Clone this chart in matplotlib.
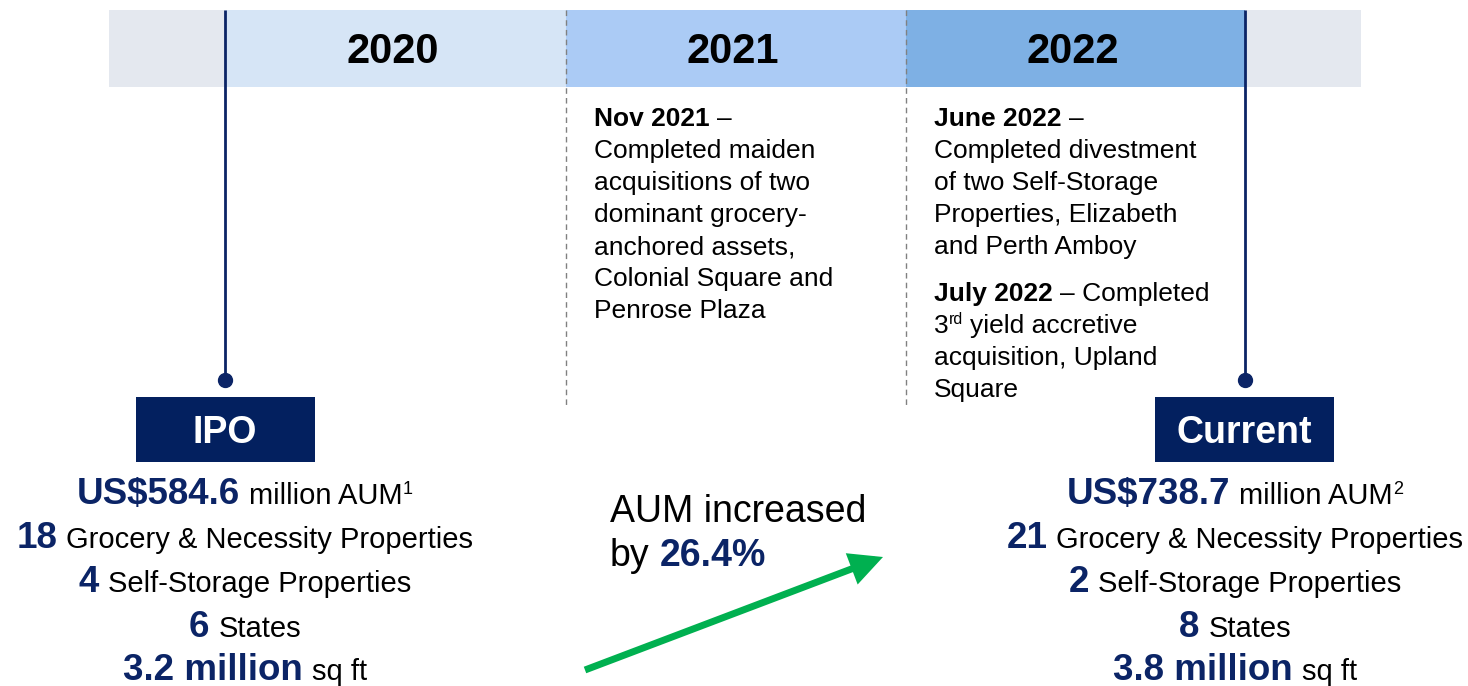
import matplotlib.pyplot as plt
from matplotlib.patches import Rectangle, FancyArrowPatch

plt.rcParams['font.family'] = ['Liberation Sans', 'DejaVu Sans']

# ---- data ----
years = ['2020', '2021', '2022']
year_colors = ['#D6E5F6', '#ABCBF5', '#7EB0E4']

ipo_label = 'IPO'
ipo_stats = [('US$584.6', 'million AUM¹'),
             ('18', 'Grocery & Necessity Properties'),
             ('4', 'Self-Storage Properties'),
             ('6', 'States'),
             ('3.2 million', 'sq ft')]

current_label = 'Current'
current_stats = [('US$738.7', 'million AUM²'),
                 ('21', 'Grocery & Necessity Properties'),
                 ('2', 'Self-Storage Properties'),
                 ('8', 'States'),
                 ('3.8 million', 'sq ft')]

aum_increase = '26.4%'

NAVY = '#0B2466'
BOX = '#03205F'
GREEN = '#00B050'

W, H = 1468, 686
fig = plt.figure(figsize=(W / 100, H / 100), dpi=100)
ax = fig.add_axes([0, 0, 1, 1])
ax.set_xlim(0, W)
ax.set_ylim(H, 0)
ax.axis('off')
renderer = fig.canvas.get_renderer()


def pt2px(pt):
    return pt * 100 / 72


def rich(x, y, parts, ha='center'):
    # parts: (text, size, weight, color, raise_px, gap_before_px)
    texts = []
    for s, size, weight, color, dy, gap in parts:
        t = ax.text(0, y - dy, s, fontsize=size, fontweight=weight, color=color,
                    va='baseline', ha='left')
        texts.append((t, gap))
    widths = [t.get_window_extent(renderer).width for t, g in texts]
    total = sum(widths) + sum(g for t, g in texts)
    cur = x - total / 2 if ha == 'center' else x
    for (t, g), w in zip(texts, widths):
        cur += g
        t.set_x(cur)
        cur += w


# ---- timeline band ----
edges = [225, 566, 906, 1245]
ax.add_patch(Rectangle((109, 10), 1361 - 109, 77, color='#E4E8EF', lw=0))
for i, (yr, c) in enumerate(zip(years, year_colors)):
    ax.add_patch(Rectangle((edges[i], 10), edges[i + 1] - edges[i], 77, color=c, lw=0))
    ax.text((edges[i] + edges[i + 1]) / 2 - 3, 63, yr, fontsize=30, fontweight='bold',
            ha='center', va='baseline', color='black')

for xd in edges[1:3]:
    ax.plot([xd, xd], [10, 405], color='#808080', lw=1, ls=(0, (4, 3)))

for xs in (edges[0], edges[3]):
    ax.plot([xs, xs], [10, 380], color=NAVY, lw=2, solid_capstyle='butt')
    ax.plot([xs], [380], 'o', color=NAVY, ms=10)

# ---- IPO / Current boxes ----
for cx, label in ((225, ipo_label), (1244.5, current_label)):
    ax.add_patch(Rectangle((cx - 89.5, 397), 179, 65, color=BOX, lw=0))
    ax.text(cx, 443, label, fontsize=27, fontweight='bold', color='white',
            ha='center', va='baseline')

baselines = [504, 548, 592, 637, 680]
sp = pt2px(21) * 0.3
for cx, stats in ((245, ipo_stats), (1235, current_stats)):
    for (num, txt), by in zip(stats, baselines):
        parts = [(num, 26.5, 'bold', NAVY, 0, 0)]
        if txt.endswith(('¹', '²')):
            parts.append((txt[:-1], 21, 'normal', 'black', 0, sp))
            parts.append(({'¹': '1', '²': '2'}[txt[-1]], 13, 'normal', 'black', 10, 0))
        else:
            parts.append((txt, 21, 'normal', 'black', 0, sp))
        rich(cx, by, parts)

# ---- events ----
EV = 19
lh = 32
esp = pt2px(EV) * 0.278
rich(594, 126, [('Nov 2021', EV, 'bold', 'black', 0, 0), ('–', EV, 'normal', 'black', 0, esp)], ha='left')
for i, line in enumerate(['Completed maiden', 'acquisitions of two', 'dominant grocery-',
                          'anchored assets,', 'Colonial Square and', 'Penrose Plaza']):
    ax.text(594, 126 + lh * (i + 1), line, fontsize=EV, va='baseline', ha='left')

rich(934, 126, [('June 2022', EV, 'bold', 'black', 0, 0), ('–', EV, 'normal', 'black', 0, esp)], ha='left')
for i, line in enumerate(['Completed divestment', 'of two Self-Storage',
                          'Properties, Elizabeth', 'and Perth Amboy']):
    ax.text(934, 126 + lh * (i + 1), line, fontsize=EV, va='baseline', ha='left')

rich(934, 301, [('July 2022', EV, 'bold', 'black', 0, 0),
                ('– Completed', EV, 'normal', 'black', 0, esp)], ha='left')
rich(934, 333, [('3', EV, 'normal', 'black', 0, 0), ('rd', 11.5, 'normal', 'black', 9, 0),
                ('yield accretive', EV, 'normal', 'black', 0, esp)], ha='left')
ax.text(934, 365, 'acquisition, Upland', fontsize=EV, va='baseline', ha='left')
ax.text(934, 397, 'Square', fontsize=EV, va='baseline', ha='left')

# ---- AUM increase ----
AS = 27
ax.text(610, 522, 'AUM increased', fontsize=AS, va='baseline', ha='left')
rich(610, 566, [('by', AS, 'normal', 'black', 0, 0),
                (aum_increase, AS, 'bold', NAVY, 0, pt2px(AS) * 0.278)], ha='left')

arrow = FancyArrowPatch((585, 670), (883, 557), arrowstyle='-|>,head_length=0.8,head_width=0.4',
                        mutation_scale=20, color=GREEN, lw=5, shrinkA=0, shrinkB=0,
                        joinstyle='miter', capstyle='butt')
ax.add_patch(arrow)

fig.savefig('out.png', dpi=100)
